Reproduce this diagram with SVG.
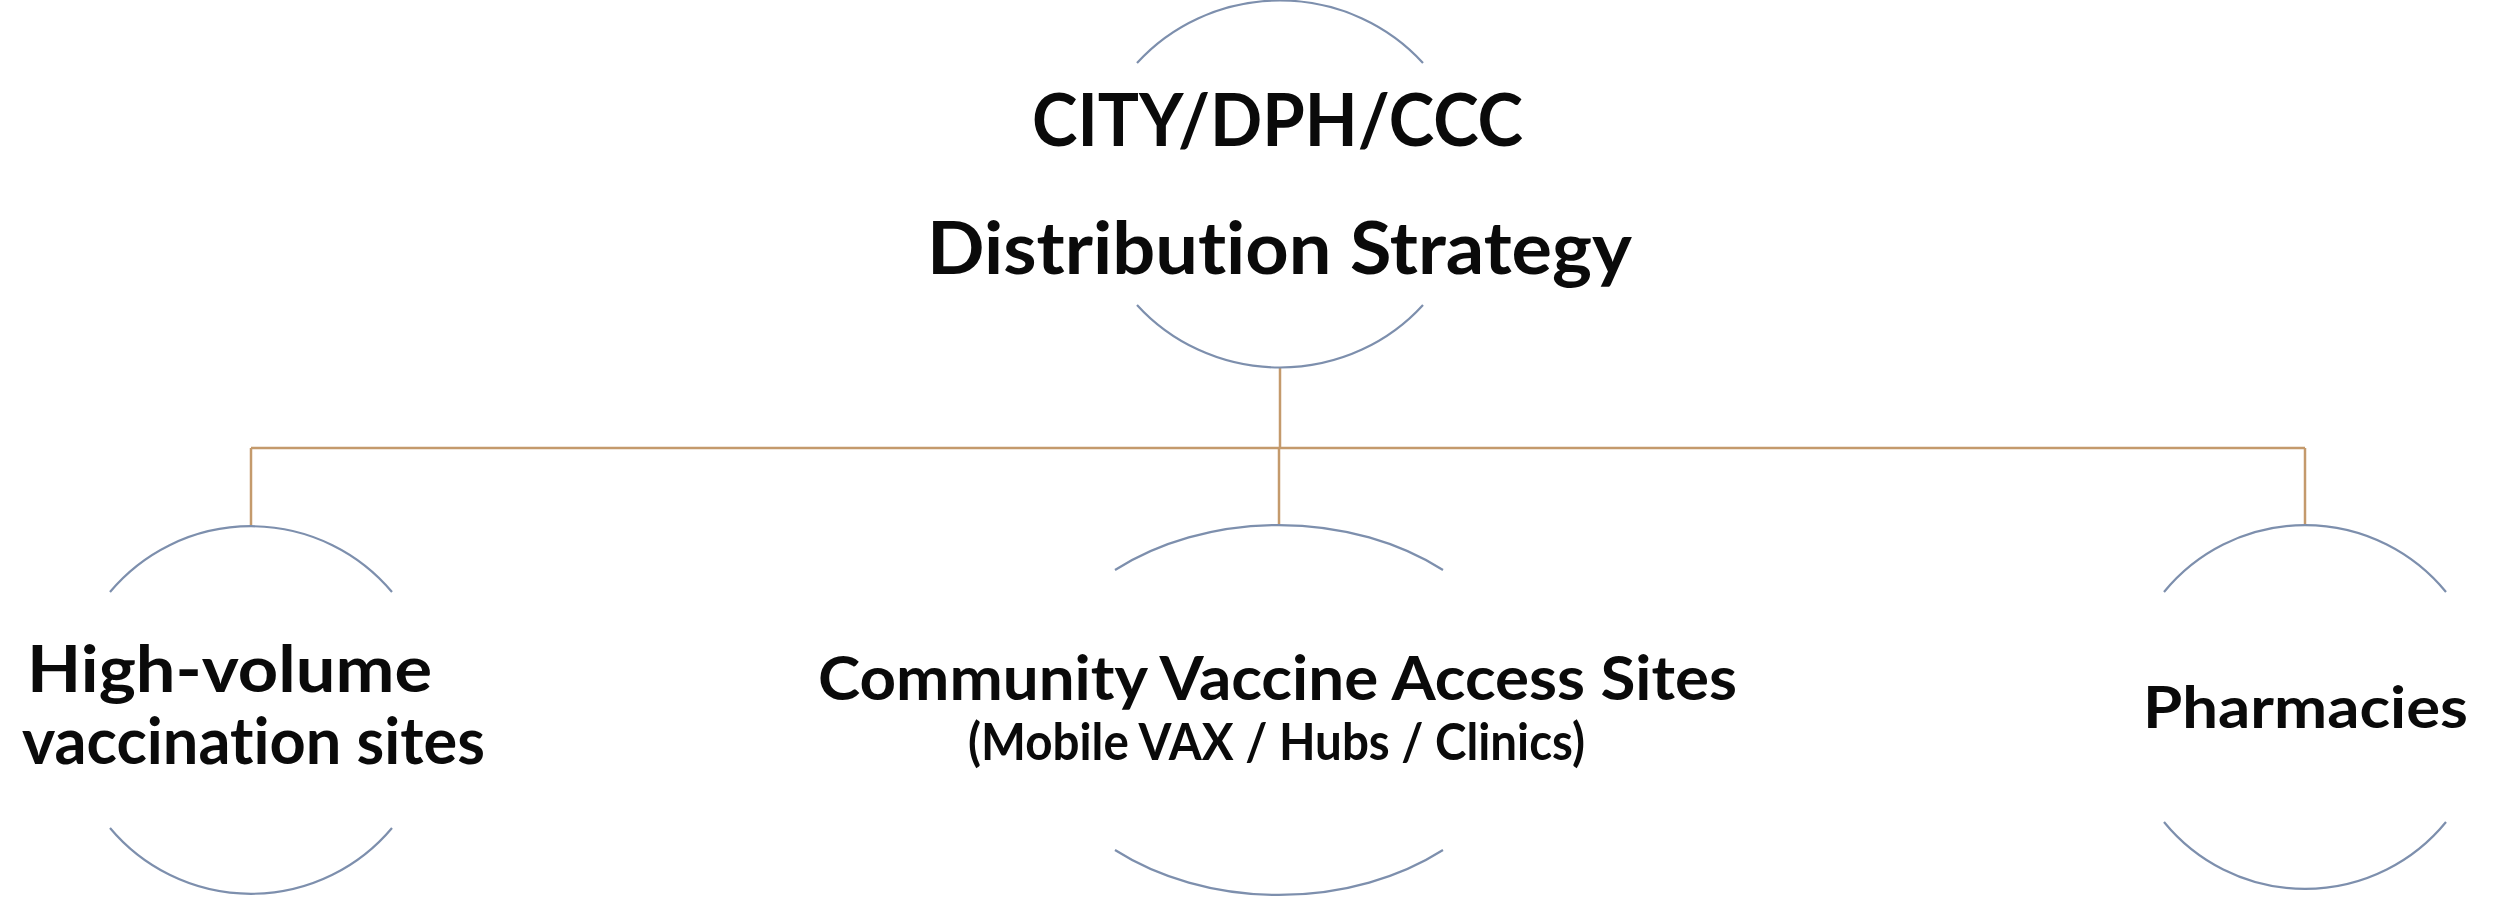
<svg xmlns="http://www.w3.org/2000/svg" width="2496" height="900" viewBox="0 0 2496 900">
<style>
.arc{fill:none;stroke:#7D8FAD;stroke-width:2.2}
.conn{fill:none;stroke:#C49A6C;stroke-width:2.5}
.t{font-family:Lato,"Open Sans","Liberation Sans",sans-serif;font-weight:bold;fill:#0a0a0a;font-variant-ligatures:none;font-feature-settings:"liga" 0,"clig" 0}
</style>
<rect width="2496" height="900" fill="#ffffff"/>
<g id="connectors">
<line class="conn" x1="1280" y1="367" x2="1280" y2="448"/>
<line class="conn" x1="251" y1="448" x2="2305" y2="448"/>
<line class="conn" x1="251" y1="448" x2="251" y2="526"/>
<line class="conn" x1="1279" y1="448" x2="1279" y2="525"/>
<line class="conn" x1="2305" y1="448" x2="2305" y2="525"/>
</g>
<g id="node-top">
<path class="arc" d="M1137,63 A190,183 0 0 1 1423,63"/>
<path class="arc" d="M1137,305 A190,183 0 0 0 1423,305"/>
<text class="t" x="1032" y="146" font-size="72" textLength="491" lengthAdjust="spacingAndGlyphs">CITY/DPH/CCC</text>
<text class="t" x="927" y="274" font-size="72" textLength="705" lengthAdjust="spacingAndGlyphs">Distribution Strategy</text>
</g>
<g id="node-left">
<path class="arc" d="M110,592 A184,184 0 0 1 392,592"/>
<path class="arc" d="M110,828 A184,184 0 0 0 392,828"/>
<text class="t" x="27" y="692" font-size="65" textLength="405" lengthAdjust="spacingAndGlyphs">High-volume</text>
<text class="t" x="22" y="764" font-size="65" textLength="463" lengthAdjust="spacingAndGlyphs">vaccination sites</text>
</g>
<g id="node-middle">
<path class="arc" d="M1115,570 A251,185 0 0 1 1443,570"/>
<path class="arc" d="M1115,850 A251,185 0 0 0 1443,850"/>
<text class="t" x="818" y="700" font-size="62" textLength="919" lengthAdjust="spacingAndGlyphs">Community Vaccine Access Sites</text>
<text class="t" x="968" y="760" font-size="51" textLength="617" lengthAdjust="spacingAndGlyphs">(Mobile VAX / Hubs / Clinics)</text>
</g>
<g id="node-right">
<path class="arc" d="M2164,592 A182,182 0 0 1 2446,592"/>
<path class="arc" d="M2164,822 A182,182 0 0 0 2446,822"/>
<text class="t" x="2143" y="728" font-size="58" textLength="325" lengthAdjust="spacingAndGlyphs">Pharmacies</text>
</g>
</svg>
